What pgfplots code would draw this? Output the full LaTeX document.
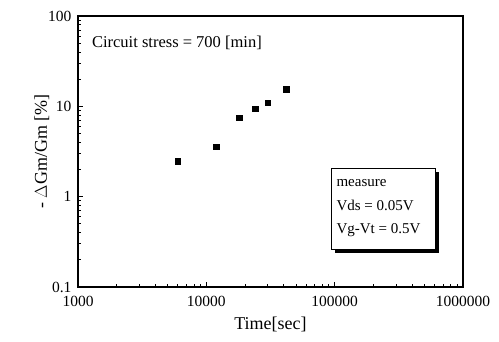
\documentclass[border=0pt]{standalone}
\usepackage{pgfplots}
\pgfplotsset{compat=1.18}
\usetikzlibrary{calc}
\usepackage{fontspec}
\setmainfont{Liberation Serif}
\begin{document}
\begin{tikzpicture}[x=1pt,y=1pt]
\begin{axis}[
  name=ax,
  at={(78pt,55pt)}, anchor=south west,
  scale only axis,
  width=385pt, height=271pt,
  xmode=log, ymode=log,
  xmin=1000, xmax=1000000, ymin=0.1, ymax=100,
  xtick={1000,10000,100000,1000000},
  xticklabels={1000,10000,100000,1000000},
  ytick={0.1,1,10,100},
  yticklabels={0.1,1,10,100},
  xtick pos=left, ytick pos=left,
  tick align=inside,
  major tick length=5pt, minor tick length=3pt,
  axis line style={line width=1.2pt},
  every tick/.style={black, line width=0.8pt},
  tick label style={font=\fontsize{15.5}{18}\selectfont},
  xticklabel style={yshift=-6pt},
  yticklabel style={xshift=-3pt},
  /pgf/number format/assume math mode=true,
  xlabel={Time[sec]},
  ylabel={- $\Delta$Gm/Gm [\%]},
  label style={font=\fontsize{18}{20}\selectfont},
  xlabel style={yshift=-3pt},
  ylabel style={yshift=-8pt},
  clip=false,
]
\addplot[only marks, mark=square*, mark size=2.8pt, black] coordinates {
  (6000,2.48) (12000,3.58) (18000,7.46) (24000,9.4) (30000,10.97) (42000,15.5)
};
\node[anchor=west, font=\fontsize{16.5}{18}\selectfont, inner sep=0pt] at (rel axis cs:0.036,0.9) {Circuit stress = 700 [min]};
\fill[black] ($(rel axis cs:0.657,0.140)+(4pt,-4pt)$) rectangle ($(rel axis cs:0.927,0.439)+(4pt,-4pt)$);
\filldraw[fill=white, draw=black, line width=0.6pt] (rel axis cs:0.657,0.140) rectangle (rel axis cs:0.927,0.439);
\node[anchor=west, font=\fontsize{15}{17}\selectfont, inner sep=0pt] at (rel axis cs:0.671,0.384) {measure};
\node[anchor=west, font=\fontsize{15}{17}\selectfont, inner sep=0pt] at (rel axis cs:0.671,0.300) {Vds = 0.05V};
\node[anchor=west, font=\fontsize{15}{17}\selectfont, inner sep=0pt] at (rel axis cs:0.671,0.210) {Vg-Vt = 0.5V};
\end{axis}
\path (0,0) rectangle (499pt,342pt);
\end{tikzpicture}
\end{document}
